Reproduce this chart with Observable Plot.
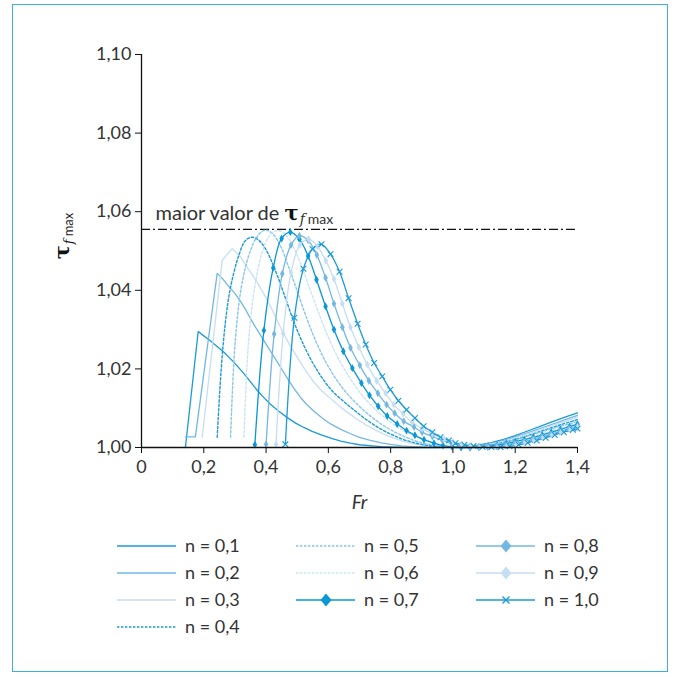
<!DOCTYPE html>
<html><head><meta charset="utf-8">
<script src="https://cdn.jsdelivr.net/npm/d3@7"></script>
<script src="https://cdn.jsdelivr.net/npm/@observablehq/plot@0.6"></script>
<style>
html,body{margin:0;padding:0;background:#fff;}
body{width:677px;height:677px;position:relative;overflow:hidden;font-family:Lato,"Open Sans",sans-serif;color:#333;}
#frame{position:absolute;left:12px;top:4px;width:656px;height:668px;border:1.5px solid #3fafe0;box-sizing:border-box;pointer-events:none;z-index:5;}
#chart{position:absolute;left:0;top:0;}
.lg{position:absolute;}
.lt{position:absolute;font-size:18px;line-height:20px;white-space:nowrap;color:#333;}
</style></head><body>
<div id="chart"></div><div id="legend"></div><div id="frame"></div>
<script>
// ---------- data (Fr, tau_f max) ----------
const seriesLabels = ["n = 0,1","n = 0,2","n = 0,3","n = 0,4","n = 0,5","n = 0,6","n = 0,7","n = 0,8","n = 0,9","n = 1,0"];
const xTicks = [0,0.2,0.4,0.6,0.8,1.0,1.2,1.4];
const yTicks = [1.00,1.02,1.04,1.06,1.08,1.10];
const maxTau = [1.0555];

const n01 = [[0.141,1.0000],[0.182,1.0295],[0.20,1.0284],[0.22,1.0272],[0.24,1.0259],[0.264,1.0243],[0.283,1.0228],[0.30,1.0214],[0.329,1.0188],[0.35,1.0167],[0.372,1.0145],[0.393,1.0127],[0.414,1.0110],[0.44,1.0093],[0.468,1.0076],[0.495,1.0062],[0.521,1.0051],[0.548,1.0041],[0.575,1.0033],[0.61,1.0023],[0.64,1.0016],[0.67,1.0011],[0.70,1.0007],[0.74,1.0004],[0.77,1.0002],[0.81,1.0001],[0.85,1.0000],[0.93,1.0000],[1.0,1.0001],[1.04,1.0003],[1.08,1.0006],[1.12,1.0012],[1.16,1.0020],[1.20,1.0030],[1.24,1.0042],[1.28,1.0054],[1.32,1.0066],[1.36,1.0077],[1.40,1.0088]];
const n02 = [[0.141,1.0027],[0.173,1.0027],[0.243,1.0443],[0.262,1.0428],[0.28,1.0410],[0.30,1.0392],[0.318,1.0372],[0.335,1.0350],[0.35,1.0328],[0.37,1.0301],[0.393,1.0272],[0.414,1.0245],[0.436,1.0218],[0.453,1.0196],[0.47,1.0174],[0.49,1.0150],[0.51,1.0128],[0.53,1.0110],[0.553,1.0093],[0.58,1.0075],[0.607,1.0060],[0.64,1.0046],[0.671,1.0035],[0.70,1.0026],[0.735,1.0018],[0.77,1.0012],[0.80,1.0008],[0.835,1.0004],[0.87,1.0002],[0.91,1.0001],[0.95,1.0000],[1.03,1.0001],[1.07,1.0003],[1.10,1.0007],[1.14,1.0013],[1.18,1.0022],[1.22,1.0032],[1.26,1.0043],[1.30,1.0054],[1.35,1.0068],[1.40,1.0082]];
const n03 = [[0.195,1.0026],[0.259,1.0476],[0.291,1.0506],[0.315,1.0488],[0.339,1.0459],[0.366,1.0427],[0.393,1.0391],[0.42,1.0350],[0.446,1.0306],[0.473,1.0265],[0.50,1.0230],[0.526,1.0197],[0.553,1.0167],[0.58,1.0143],[0.607,1.0125],[0.633,1.0107],[0.66,1.0090],[0.69,1.0073],[0.72,1.0058],[0.75,1.0045],[0.78,1.0033],[0.81,1.0024],[0.84,1.0016],[0.87,1.0010],[0.90,1.0006],[0.93,1.0003],[0.96,1.0001],[1.02,1.0000],[1.055,1.0001],[1.09,1.0004],[1.125,1.0009],[1.16,1.0015],[1.195,1.0023],[1.23,1.0032],[1.265,1.0041],[1.30,1.0051],[1.35,1.0064],[1.40,1.0077]];
const n04 = [[0.243,1.0026],[0.256,1.0200],[0.27,1.0323],[0.286,1.0408],[0.3125,1.0489],[0.334,1.0527],[0.355,1.0535],[0.377,1.0527],[0.40,1.0503],[0.43,1.0450],[0.46,1.0385],[0.49,1.0318],[0.52,1.0262],[0.55,1.0215],[0.58,1.0177],[0.61,1.0146],[0.645,1.0120],[0.68,1.0097],[0.72,1.0072],[0.76,1.0051],[0.80,1.0034],[0.85,1.0018],[0.90,1.0008],[0.95,1.0002],[1.0,1.0000],[1.06,1.0001],[1.12,1.0006],[1.18,1.0016],[1.24,1.0030],[1.30,1.0046],[1.35,1.0059],[1.40,1.0071]];
const n05 = [[0.286,1.0026],[0.30,1.0260],[0.32,1.0405],[0.345,1.0490],[0.37,1.0535],[0.395,1.0553],[0.42,1.0545],[0.445,1.0515],[0.47,1.0465],[0.50,1.0398],[0.53,1.0330],[0.56,1.0270],[0.59,1.0220],[0.62,1.0180],[0.65,1.0147],[0.68,1.0120],[0.72,1.0090],[0.76,1.0065],[0.80,1.0045],[0.85,1.0026],[0.90,1.0012],[0.95,1.0005],[1.0,1.0001],[1.05,1.0000],[1.10,1.0003],[1.16,1.0011],[1.22,1.0024],[1.28,1.0039],[1.34,1.0053],[1.40,1.0066]];
const n06 = [[0.329,1.0026],[0.342,1.0250],[0.36,1.0390],[0.385,1.0490],[0.41,1.0538],[0.435,1.0552],[0.46,1.0543],[0.485,1.0515],[0.51,1.0470],[0.54,1.0405],[0.57,1.0340],[0.60,1.0280],[0.63,1.0230],[0.66,1.0188],[0.69,1.0152],[0.72,1.0122],[0.76,1.0090],[0.80,1.0064],[0.84,1.0044],[0.88,1.0028],[0.93,1.0014],[0.98,1.0005],[1.03,1.0001],[1.08,1.0000],[1.13,1.0004],[1.19,1.0013],[1.25,1.0026],[1.31,1.0041],[1.36,1.0052],[1.40,1.0062]];
const n07 = [[0.364,1.0007],[0.393,1.0298],[0.423,1.0457],[0.450,1.0532],[0.478,1.0548],[0.507,1.0530],[0.535,1.0487],[0.562,1.0427],[0.591,1.0359],[0.618,1.0300],[0.648,1.0245],[0.677,1.0202],[0.706,1.0164],[0.732,1.0133],[0.760,1.0105],[0.789,1.0080],[0.821,1.0060],[0.851,1.0043],[0.878,1.0031],[0.907,1.0020],[0.939,1.0011],[0.968,1.0005],[0.997,1.0002],[1.026,1.0000],[1.055,1.0000],[1.084,1.0001],[1.113,1.0003],[1.142,1.0006],[1.171,1.0010],[1.200,1.0015],[1.229,1.0020],[1.258,1.0026],[1.287,1.0032],[1.316,1.0039],[1.345,1.0046],[1.374,1.0053],[1.400,1.0059]];
const n08 = [[0.400,1.0008],[0.426,1.0289],[0.452,1.0442],[0.480,1.0515],[0.507,1.0539],[0.535,1.0527],[0.563,1.0490],[0.591,1.0432],[0.618,1.0366],[0.645,1.0306],[0.671,1.0254],[0.701,1.0209],[0.730,1.0170],[0.759,1.0138],[0.787,1.0109],[0.813,1.0087],[0.842,1.0067],[0.875,1.0052],[0.901,1.0039],[0.934,1.0028],[0.966,1.0018],[0.995,1.0010],[1.024,1.0005],[1.053,1.0002],[1.082,1.0001],[1.111,1.0001],[1.140,1.0003],[1.169,1.0006],[1.198,1.0010],[1.227,1.0015],[1.256,1.0021],[1.285,1.0027],[1.314,1.0034],[1.343,1.0041],[1.372,1.0048],[1.400,1.0055]];
const n09 = [[0.432,1.0008],[0.455,1.0290],[0.480,1.0445],[0.508,1.0515],[0.537,1.0530],[0.565,1.0512],[0.592,1.0475],[0.618,1.0429],[0.645,1.0366],[0.671,1.0306],[0.698,1.0255],[0.725,1.0211],[0.755,1.0170],[0.784,1.0138],[0.810,1.0109],[0.840,1.0086],[0.869,1.0064],[0.901,1.0048],[0.934,1.0035],[0.971,1.0022],[1.000,1.0014],[1.029,1.0008],[1.058,1.0004],[1.087,1.0002],[1.116,1.0001],[1.145,1.0002],[1.174,1.0004],[1.203,1.0008],[1.232,1.0013],[1.261,1.0019],[1.290,1.0025],[1.319,1.0032],[1.348,1.0039],[1.377,1.0045],[1.400,1.0051]];
const n10 = [[0.462,1.0008],[0.491,1.0330],[0.520,1.0455],[0.549,1.0505],[0.578,1.0517],[0.607,1.0492],[0.636,1.0447],[0.665,1.0380],[0.694,1.0315],[0.720,1.0262],[0.747,1.0215],[0.773,1.0181],[0.799,1.0147],[0.825,1.0119],[0.851,1.0096],[0.878,1.0075],[0.906,1.0054],[0.934,1.0039],[0.960,1.0026],[0.987,1.0018],[1.008,1.0011],[1.037,1.0007],[1.066,1.0004],[1.095,1.0002],[1.124,1.0001],[1.153,1.0001],[1.182,1.0003],[1.211,1.0007],[1.240,1.0012],[1.269,1.0018],[1.298,1.0025],[1.327,1.0032],[1.356,1.0039],[1.385,1.0045],[1.400,1.0048]];

// ---------- styles ----------
const c1 = "#1b9bd7", c2 = "#72b8e3", c3 = "#c6def2", c2d = "#86c7ec", c3d = "#cbe3f4";
const DOT = "2.4,2";
const series = [
  {data:n01, stroke:c1, dash:null, w:1.3, curve:"linear"},
  {data:n02, stroke:c2, dash:null, w:1.3, curve:"linear"},
  {data:n03, stroke:c3, dash:null, w:1.3, curve:"linear"},
  {data:n04, stroke:c1, dash:DOT, w:1.4},
  {data:n05, stroke:c2d, dash:DOT, w:1.4},
  {data:n06, stroke:c3d, dash:DOT, w:1.4},
  {data:n07, stroke:"#0a97d5", dash:null, w:1.3, marker:"diamond"},
  {data:n08, stroke:c2, dash:null, w:1.3, marker:"diamond"},
  {data:n09, stroke:c3, dash:null, w:1.3, marker:"diamond"},
  {data:n10, stroke:c1, dash:null, w:1.3, marker:"times"}
];
const X = d => d[0], Y = d => d[1];

const marks = [];
series.forEach(s => {
  marks.push(Plot.line(s.data, {x:X, y:Y, stroke:s.stroke, strokeWidth:s.w, strokeDasharray:s.dash, curve:s.curve || "catmull-rom"}));
});
series.forEach(s => {
  if (s.marker === "diamond") marks.push(Plot.dot(s.data, {x:X, y:Y, symbol:"diamond", r:2.4, fill:s.stroke, stroke:"none"}));
  if (s.marker === "times") marks.push(Plot.dot(s.data, {x:X, y:Y, symbol:"times", r:2.7, stroke:s.stroke, strokeWidth:1.1, fill:"none"}));
});

const MAXTEXT = "maior valor de τf max";
const YTEXT = "τf max";
const plot = Plot.plot({
  width: 677, height: 530,
  marginLeft: 141, marginRight: 100, marginTop: 54, marginBottom: 83,
  style: {fontFamily: "Lato, 'Open Sans', sans-serif", fontSize: "18px", color: "#222", background: "transparent", overflow: "visible"},
  x: {domain: [0, 1.4]},
  y: {domain: [1.0, 1.1]},
  marks: [
    Plot.ruleY(maxTau, {x1: 0, x2: 1.4, stroke: "#111", strokeWidth: 1.1, strokeDasharray: "9,3,2,3"}),
    ...marks,
    Plot.ruleX([0], {y1: 1.0, y2: 1.1, stroke: "#111", strokeWidth: 1.3}),
    Plot.ruleY([1.0], {x1: 0, x2: 1.4, stroke: "#111", strokeWidth: 1.3}),
    Plot.axisX({ticks: xTicks, tickFormat: d => d === 0 ? "0" : d.toFixed(1).replace(".", ","), tickSize: 6, tickPadding: 7, label: null, fill: "#333", stroke: "#111"}),
    Plot.axisY({ticks: yTicks, tickFormat: d => d.toFixed(2).replace(".", ","), tickSize: 6, tickPadding: 4, label: null, fill: "#333", stroke: "#111"}),
    Plot.text(["Fr"], {frameAnchor: "bottom", dy: 61, fontStyle: "italic", fontSize: 19, fill: "#333"}),
    Plot.text(maxTau, {y: d => d, frameAnchor: "left", dx: 14, dy: -16, textAnchor: "start", text: () => MAXTEXT, fill: "#333", fontSize: 20}),
    Plot.text([YTEXT], {frameAnchor: "left", dx: -79, dy: -15, rotate: -90, textAnchor: "middle", fill: "#222", fontSize: 19})
  ]
});
document.getElementById("chart").appendChild(plot);

// rich text for the tau labels
function richTau(sel, lead, big, small) {
  sel.each(function() {
    const t = d3.select(this);
    t.text(null);
    if (lead) t.append("tspan").text(lead);
    t.append("tspan").attr("font-family", "'DejaVu Serif', 'Liberation Serif', serif").attr("font-weight", "bold").attr("font-size", big).attr("fill", "#111").text("τ");
    t.append("tspan").attr("font-family", "'DejaVu Serif', 'Liberation Serif', serif").attr("font-style", "italic").attr("font-size", small).attr("dx", 1).attr("dy", 4).text("f");
    t.append("tspan").attr("font-size", small).attr("dx", 3).text("max");
  });
}
const allText = d3.select(plot).selectAll("text");
richTau(allText.filter(function() { return this.textContent === MAXTEXT; }), "maior valor de ", 21, 14);
richTau(allText.filter(function() { return this.textContent === YTEXT; }), null, 21, 13);

// ---------- legend ----------
const legend = document.getElementById("legend");
const cols = [{lx:117, tx:185}, {lx:296, tx:364}, {lx:476, tx:544}];
const rows = [546, 573, 600, 627];
series.forEach((s, i) => {
  const col = i < 4 ? 0 : (i < 7 ? 1 : 2);
  const row = i < 4 ? i : (i < 7 ? i - 4 : i - 7);
  const cy = rows[row];
  const sv = d3.create("svg").attr("class", "lg").attr("width", 60).attr("height", 16)
    .style("left", cols[col].lx + "px").style("top", (cy - 8) + "px").style("position", "absolute");
  sv.append("line").attr("x1", 0).attr("x2", 59).attr("y1", 8).attr("y2", 8)
    .attr("stroke", s.stroke).attr("stroke-width", s.dash ? 1.6 : 1.5).attr("stroke-dasharray", s.dash ? "2.4,1.6" : null);
  if (s.marker === "diamond") sv.append("path").attr("d", "M30,1.5L35.5,8L30,14.5L24.5,8Z").attr("fill", s.stroke);
  if (s.marker === "times") sv.append("path").attr("d", "M26.5,4.5L33.5,11.5M33.5,4.5L26.5,11.5").attr("stroke", s.stroke).attr("stroke-width", 1.4);
  legend.appendChild(sv.node());
  const t = document.createElement("div");
  t.className = "lt";
  t.style.left = cols[col].tx + "px";
  t.style.top = (cy - 11) + "px";
  t.textContent = seriesLabels[i];
  legend.appendChild(t);
});
</script></body></html>
